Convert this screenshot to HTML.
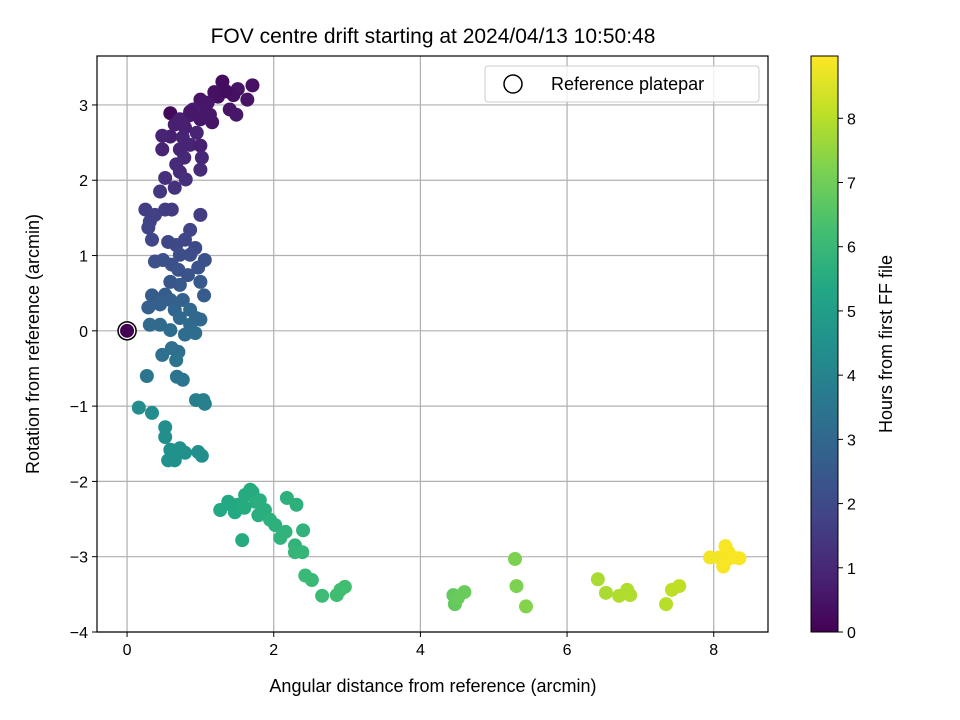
<!DOCTYPE html>
<html><head><meta charset="utf-8"><style>
html,body{margin:0;padding:0;background:#fff;}
svg{display:block;font-family:"Liberation Sans","DejaVu Sans",sans-serif;}
</style></head><body>
<svg id="chart" width="960" height="720" viewBox="0 0 960 720">
<defs>
<linearGradient id="vir" x1="0" y1="1" x2="0" y2="0">
<stop offset="0" stop-color="#440154"/><stop offset="0.1" stop-color="#482475"/><stop offset="0.2" stop-color="#414487"/><stop offset="0.3" stop-color="#355f8d"/><stop offset="0.4" stop-color="#2a788e"/><stop offset="0.5" stop-color="#21918c"/><stop offset="0.6" stop-color="#22a884"/><stop offset="0.7" stop-color="#44bf70"/><stop offset="0.8" stop-color="#7ad151"/><stop offset="0.9" stop-color="#bddf26"/><stop offset="1" stop-color="#fde725"/>
</linearGradient>
<clipPath id="plotclip"><rect x="97" y="56" width="671" height="576"/></clipPath>
</defs>
<text x="433" y="43" font-size="21" text-anchor="middle">FOV centre drift starting at 2024/04/13 10:50:48</text>
<g id="grid"></g>
<g id="marks" clip-path="url(#plotclip)"></g>
<rect x="97" y="56" width="671" height="576" fill="none" stroke="#000" stroke-width="1.2"/>
<g id="xticks"></g>
<g id="yticks"></g>
<text x="433" y="692" font-size="18" text-anchor="middle">Angular distance from reference (arcmin)</text>
<text transform="translate(39,344) rotate(-90)" font-size="18" text-anchor="middle">Rotation from reference (arcmin)</text>
<g>
<rect x="485" y="66" width="274" height="36" rx="3" fill="#fff" fill-opacity="0.8" stroke="#ccc"/>
<circle cx="513" cy="84" r="9" fill="none" stroke="#000" stroke-width="1.5"/>
<text x="551" y="90" font-size="18">Reference platepar</text>
</g>
<rect x="811" y="56" width="27" height="576" fill="url(#vir)" stroke="#000" stroke-width="1"/>
<g id="cticks"></g>
<text transform="translate(892,344) rotate(-90)" font-size="18" text-anchor="middle">Hours from first FF file</text>
</svg>
<script>
const xTicks=[0,2,4,6,8];
const yTicks=[3,2,1,0,-1,-2,-3,-4];
const cTicks=[0,1,2,3,4,5,6,7,8];
const xs=[1.30,1.71,1.51,1.24,1.64,1.45,1.10,1.00,1.19,1.35,1.04,0.90,0.85,0.59,0.72,1.00,1.16,0.79,0.95,0.65,0.59,0.48,0.86,0.72,1.00,1.02,0.78,0.67,0.72,0.80,1.00,0.65,0.45,0.52,0.86,1.40,1.49,1.13,0.48,0.76,
0.25,0.38,0.31,0.52,0.61,0.29,0.34,0.56,0.67,1.00,0.86,0.79,0.93,0.72,0.61,0.38,0.49,0.70,0.83,0.97,1.06,0.86,0.72,1.00,0.59,
0.34,0.52,0.45,0.29,0.59,0.65,0.76,0.86,0.94,0.72,0.86,0.93,0.79,0.59,0.45,0.31,1.00,1.05,0.61,0.48,0.70,0.67,0.27,0.68,0.76,1.04,0.94,1.06,
0.16,0.34,0.52,0.52,0.59,0.72,0.79,0.65,0.56,1.02,0.97,
1.27,1.38,1.47,1.51,1.61,1.71,1.81,1.88,1.79,1.75,1.95,2.02,1.57,2.09,2.16,2.29,2.31,2.40,2.29,2.39,2.43,2.52,2.66,2.91,2.86,2.97,1.42,1.68,2.18,1.60,
4.45,4.47,4.51,4.60,5.29,5.31,5.44,
6.42,6.53,6.71,6.86,6.82,7.35,7.43,7.53,
7.95,8.07,8.16,8.17,8.13,8.35,8.27,8.20];
const ys=[3.31,3.26,3.21,3.11,3.07,3.13,3.03,3.07,3.17,3.18,2.94,2.94,2.86,2.89,2.81,2.81,2.77,2.70,2.63,2.74,2.58,2.59,2.47,2.41,2.46,2.30,2.30,2.21,2.11,2.01,2.14,1.90,1.85,2.03,2.91,2.94,2.87,2.87,2.41,2.57,
1.61,1.54,1.45,1.61,1.61,1.37,1.21,1.18,1.14,1.54,1.34,1.21,1.10,1.01,0.88,0.92,0.94,0.81,0.74,0.84,0.94,1.01,0.61,0.65,0.65,
0.47,0.48,0.35,0.31,0.41,0.28,0.41,0.28,0.17,0.17,0.08,-0.03,-0.05,0.01,0.08,0.08,0.15,0.47,-0.23,-0.32,-0.28,-0.39,-0.60,-0.61,-0.65,-0.92,-0.92,-0.97,
-1.02,-1.09,-1.28,-1.41,-1.58,-1.56,-1.62,-1.72,-1.72,-1.66,-1.61,
-2.38,-2.27,-2.41,-2.31,-2.18,-2.14,-2.25,-2.38,-2.45,-2.27,-2.51,-2.58,-2.78,-2.75,-2.67,-2.85,-2.31,-2.65,-2.94,-2.94,-3.25,-3.31,-3.52,-3.44,-3.51,-3.40,-2.31,-2.11,-2.22,-2.35,
-3.51,-3.63,-3.55,-3.47,-3.03,-3.39,-3.66,
-3.30,-3.48,-3.52,-3.51,-3.44,-3.63,-3.44,-3.39,
-3.01,-3.01,-2.86,-3.05,-3.13,-3.02,-3.01,-2.94];
const hours=[0.3,0.4,0.5,0.4,0.5,0.4,0.6,0.5,0.4,0.3,0.6,0.7,0.7,0.2,0.8,0.6,0.5,0.8,0.9,0.8,0.8,0.9,0.9,0.9,0.8,1.0,1.0,1.1,1.1,1.2,1.1,1.3,1.4,1.2,0.6,0.5,0.6,0.6,0.9,0.9,
1.6,1.7,1.7,1.6,1.5,1.8,1.9,1.9,2.0,1.6,1.8,1.9,2.0,2.1,2.2,2.2,2.2,2.3,2.3,2.3,2.2,2.1,2.5,2.5,2.4,
2.6,2.6,2.7,2.7,2.7,2.9,2.8,3.0,3.0,3.0,3.1,3.2,3.2,3.2,3.1,3.1,3.0,2.6,3.3,3.3,3.3,3.4,3.5,3.4,3.5,3.8,3.8,3.9,
4.3,4.3,4.4,4.4,4.5,4.5,4.5,4.5,4.5,4.4,4.4,
5.4,5.4,5.4,5.5,5.5,5.5,5.6,5.6,5.6,5.6,5.7,5.7,5.5,5.8,5.8,5.8,5.7,5.8,5.9,5.9,6.0,6.0,6.1,6.2,6.2,6.2,5.4,5.5,5.7,5.5,
6.8,6.8,6.9,6.9,7.2,7.2,7.3,
7.8,7.8,7.9,7.9,7.9,8.0,8.1,8.1,
8.8,8.8,8.9,8.9,8.9,8.9,8.9,8.9];
const refX=0, refY=0;
const hMax=8.97;

const NS="http://www.w3.org/2000/svg";
const X0=97,X1=768,Y0=56,Y1=632;
const xMin=-0.41,xMax=8.74,yMin=-4.0,yMax=3.65;
const sx=v=>X0+(v-xMin)/(xMax-xMin)*(X1-X0);
const sy=v=>Y1-(v-yMin)/(yMax-yMin)*(Y1-Y0);
const sc=v=>632-v/hMax*576;
const stops=[[68,1,84],[72,36,117],[65,68,135],[53,95,141],[42,120,142],[33,145,140],[34,168,132],[68,191,112],[122,209,81],[189,223,38],[253,231,37]];
function vir(t){t=Math.max(0,Math.min(1,t))*10;const i=Math.min(9,Math.floor(t)),f=t-i;const a=stops[i],b=stops[i+1];
return `rgb(${a.map((c,k)=>Math.round(c+(b[k]-c)*f)).join(',')})`;}
function mk(tag,attrs,parent){const e=document.createElementNS(NS,tag);for(const k in attrs)e.setAttribute(k,attrs[k]);parent.appendChild(e);return e;}
const grid=document.getElementById('grid'),xt=document.getElementById('xticks'),yt=document.getElementById('yticks'),ct=document.getElementById('cticks'),marks=document.getElementById('marks');
xTicks.forEach(v=>{const x=sx(v);
const g=mk('line',{x1:x,x2:x,y1:Y0,y2:Y1,stroke:'#b0b0b0','stroke-width':1.2},grid);


const t=mk('line',{x1:x,x2:x,y1:Y1,y2:Y1+5,stroke:'#000'},xt);


const l=mk('text',{x:x,y:Y1+23,'font-size':16,'text-anchor':'middle'},xt);l.textContent=v;

});
yTicks.forEach(v=>{const y=sy(v);
const g=mk('line',{x1:X0,x2:X1,y1:y,y2:y,stroke:'#b0b0b0','stroke-width':1.2},grid);


const t=mk('line',{x1:X0-5,x2:X0,y1:y,y2:y,stroke:'#000'},yt);


const l=mk('text',{x:X0-9,y:y+6,'font-size':16,'text-anchor':'end'},yt);l.textContent=v<0?'\u2212'+(-v):v;

});
cTicks.forEach(v=>{const y=sc(v);
const t=mk('line',{x1:838,x2:843,y1:y,y2:y,stroke:'#000'},ct);


const l=mk('text',{x:847,y:y+6,'font-size':16},ct);l.textContent=v;

});
xs.forEach((v,i)=>{const c=mk('circle',{cx:sx(v),cy:sy(ys[i]),r:7,fill:vir(hours[i]/hMax)},marks);

});
const r=mk('circle',{cx:sx(refX),cy:sy(refY),r:9,fill:'#fff',stroke:'#000','stroke-width':1.5},marks);


const rp=mk('circle',{cx:sx(refX),cy:sy(refY),r:7,fill:vir(0)},marks);


</script>
</body></html>
